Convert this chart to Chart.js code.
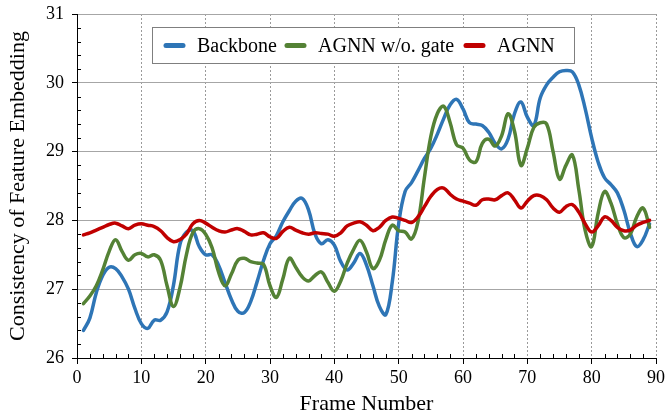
<!DOCTYPE html>
<html lang="en">
<head>
<meta charset="UTF-8">
<script src="https://cdn.jsdelivr.net/npm/chart.js"></script>
<title>Consistency of Feature Embedding</title>
<style>
  html, body { margin: 0; padding: 0; background: #fff; }
  #wrap { width: 665px; height: 417px; }
</style>
</head>
<body>
<div id="wrap"><canvas id="myChart"></canvas></div>
<script>
const frames = [1,2,3,4,5,6,7,8,9,10,11,12,13,14,15,16,17,18,19,20,
  21,22,23,24,25,26,27,28,29,30,31,32,33,34,35,36,37,38,39,40,
  41,42,43,44,45,46,47,48,49,50,51,52,53,54,55,56,57,58,59,60,
  61,62,63,64,65,66,67,68,69,70,71,72,73,74,75,76,77,78,79,80,
  81,82,83,84,85,86,87,88,89];

const backbone = [26.40,26.58,26.95,27.20,27.32,27.30,27.18,27.00,26.72,26.50,
  26.43,26.55,26.55,26.67,27.06,27.65,27.83,27.85,27.62,27.50,
  27.50,27.35,27.10,26.85,26.68,26.66,26.82,27.11,27.42,27.66,
  27.78,27.98,28.14,28.28,28.32,28.15,27.80,27.66,27.72,27.64,
  27.40,27.28,27.38,27.52,27.35,27.05,26.75,26.63,27.10,27.95,
  28.42,28.55,28.72,28.90,29.05,29.25,29.48,29.68,29.76,29.62,
  29.42,29.40,29.38,29.28,29.12,29.04,29.18,29.55,29.72,29.50,
  29.38,29.78,29.97,30.08,30.16,30.18,30.16,29.97,29.62,29.20,
  28.85,28.62,28.52,28.40,28.15,27.82,27.62,27.72,27.95];

const noGate = [26.79,26.90,27.05,27.28,27.55,27.72,27.55,27.42,27.50,27.52,
  27.47,27.50,27.42,27.05,26.75,27.02,27.50,27.82,27.88,27.80,
  27.60,27.25,27.05,27.22,27.42,27.45,27.40,27.38,27.36,27.05,
  26.88,27.15,27.45,27.32,27.18,27.12,27.20,27.25,27.10,26.97,
  27.12,27.38,27.58,27.71,27.54,27.30,27.42,27.72,27.93,27.85,
  27.83,27.73,27.98,28.62,29.22,29.55,29.66,29.42,29.10,29.05,
  28.88,28.85,29.12,29.18,29.08,29.23,29.55,29.30,28.80,29.05,
  29.35,29.42,29.40,29.00,28.60,28.80,28.95,28.45,27.85,27.62,
  28.10,28.42,28.25,27.95,27.75,27.80,28.05,28.18,27.90];

const agnn = [27.79,27.82,27.86,27.90,27.94,27.96,27.92,27.88,27.93,27.95,
  27.93,27.91,27.85,27.75,27.69,27.72,27.80,27.95,28.00,27.96,
  27.90,27.85,27.83,27.86,27.88,27.84,27.79,27.80,27.82,27.76,
  27.74,27.84,27.90,27.86,27.82,27.80,27.82,27.81,27.80,27.77,
  27.82,27.92,27.96,27.98,27.93,27.85,27.90,28.00,28.05,28.03,
  28.00,27.97,28.05,28.20,28.35,28.45,28.47,28.38,28.31,28.28,
  28.25,28.22,28.30,28.31,28.30,28.36,28.40,28.30,28.18,28.28,
  28.36,28.36,28.30,28.18,28.12,28.20,28.23,28.12,27.95,27.83,
  27.92,28.05,28.00,27.90,27.85,27.86,27.93,27.97,28.00];

const seriesNames = ['Backbone', 'AGNN w/o. gate', 'AGNN'];
const seriesColors = ['rgb(46,117,182)', 'rgb(84,130,53)', 'rgb(192,0,0)'];
const xTicks = [0, 10, 20, 30, 40, 50, 60, 70, 80, 90];
const yTicks = [26, 27, 28, 29, 30, 31];

const FONT = "'Liberation Serif', 'Times New Roman', serif";

function toPoints(values) {
  return values.map((v, i) => ({ x: frames[i], y: v }));
}

// small inner ticks: every 2 frames on x, every 0.2 on y
const minorTicks = {
  id: 'minorTicks',
  afterDraw(chart) {
    const { ctx, chartArea, scales: { x, y } } = chart;
    ctx.save();
    ctx.strokeStyle = '#000';
    ctx.lineWidth = 1;
    ctx.beginPath();
    for (let k = 1; k < 45; k++) {
      if (k % 5 === 0) continue;
      const px = Math.round(x.getPixelForValue(k * 2)) + 0.5;
      ctx.moveTo(px, chartArea.bottom);
      ctx.lineTo(px, chartArea.bottom - 4);
    }
    for (let k = 1; k < 25; k++) {
      if (k % 5 === 0) continue;
      const py = Math.round(y.getPixelForValue(26 + k * 0.2)) + 0.5;
      ctx.moveTo(chartArea.left, py);
      ctx.lineTo(chartArea.left + 4, py);
    }
    ctx.stroke();
    ctx.restore();
  }
};

// boxed legend inside the plot
const boxLegend = {
  id: 'boxLegend',
  afterDraw(chart) {
    const ctx = chart.ctx;
    const box = { x: 152.5, y: 27.5, w: 422, h: 36 };
    ctx.save();
    ctx.fillStyle = '#fff';
    ctx.fillRect(box.x, box.y, box.w, box.h);
    ctx.strokeStyle = '#7f7f7f';
    ctx.lineWidth = 1;
    ctx.strokeRect(box.x, box.y, box.w, box.h);
    const starts = [164, 285, 464];
    const cy = box.y + box.h / 2;
    ctx.font = '20px ' + FONT;
    ctx.textBaseline = 'middle';
    ctx.fillStyle = '#000';
    chart.data.datasets.forEach((ds, i) => {
      ctx.strokeStyle = ds.borderColor;
      ctx.lineWidth = 5;
      ctx.lineCap = 'round';
      ctx.beginPath();
      ctx.moveTo(starts[i] + 2, cy);
      ctx.lineTo(starts[i] + 19, cy);
      ctx.stroke();
      ctx.fillText(ds.label, starts[i] + 33, cy + 1);
    });
    ctx.restore();
  }
};

const ctx = document.getElementById('myChart');

new Chart(ctx, {
  type: 'line',
  data: {
    datasets: [
      { label: seriesNames[0], data: toPoints(backbone), borderColor: seriesColors[0], order: 3 },
      { label: seriesNames[1], data: toPoints(noGate), borderColor: seriesColors[1], order: 2 },
      { label: seriesNames[2], data: toPoints(agnn), borderColor: seriesColors[2], order: 1 }
    ]
  },
  options: {
    responsive: true,
    maintainAspectRatio: false,
    animation: false,
    layout: { padding: { left: 0, right: 9, top: 14, bottom: 0 } },
    elements: {
      line: { borderWidth: 3.5, tension: 0.4, fill: false, borderCapStyle: 'round' },
      point: { radius: 0 }
    },
    plugins: {
      legend: { display: false },
      tooltip: { enabled: false }
    },
    scales: {
      x: {
        type: 'linear',
        min: 0,
        max: 90,
        afterFit: s => { s.height = 59; s.paddingLeft = 0; s.paddingRight = 0; },
        afterBuildTicks: s => { s.ticks = xTicks.map(v => ({ value: v })); },
        grid: { color: '#9a9a9a', lineWidth: 1, tickColor: '#000', tickLength: 6, drawTicks: true },
        border: { display: true, color: '#000', width: 1, dash: [2, 2] },
        ticks: { color: '#000', font: { family: FONT, size: 18 }, padding: 3, maxRotation: 0 },
        title: { display: true, text: 'Frame Number', color: '#000', font: { family: FONT, size: 22 }, padding: { top: 0, bottom: 0 } }
      },
      y: {
        min: 26,
        max: 31,
        afterFit: s => { s.width = 77; s.paddingTop = 0; s.paddingBottom = 0; },
        afterBuildTicks: s => { s.ticks = yTicks.map(v => ({ value: v })); },
        grid: { color: '#a6a6a6', lineWidth: 1, tickColor: '#000', tickLength: 5, drawTicks: true },
        border: { display: true, color: '#000', width: 1 },
        ticks: { color: '#000', font: { family: FONT, size: 18 }, padding: 8 },
        title: { display: true, text: 'Consistency of Feature Embedding', color: '#000', font: { family: FONT, size: 22 }, padding: { top: 5, bottom: 0 } }
      }
    }
  },
  plugins: [minorTicks, boxLegend]
});
</script>
</body>
</html>
